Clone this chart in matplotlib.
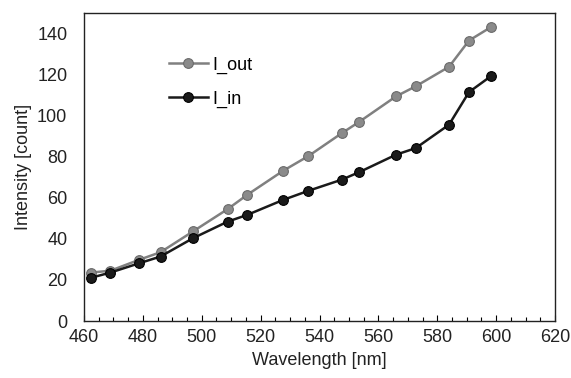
import matplotlib.pyplot as plt
from matplotlib.ticker import MultipleLocator

plt.rcParams['font.family'] = ['Liberation Sans', 'DejaVu Sans']

wavelength = [462.5, 469, 478.7, 486, 497, 508.8, 515.5, 527.7, 536.2, 547.5,
              553.5, 566, 572.7, 584, 590.8, 598.2]
i_out = [23.6, 24.5, 29.8, 33.5, 43.6, 54.5, 61.5, 73.2, 80.3, 91.4,
         97.0, 109.4, 114.3, 123.8, 136.6, 143.1]
i_in = [21.1, 23.6, 28.1, 31.4, 40.3, 48.4, 51.7, 59.0, 63.4, 68.8,
        72.5, 81.0, 84.2, 95.6, 111.5, 119.2]

fig = plt.figure(figsize=(5.71, 3.78), dpi=100)
ax = fig.add_axes([84 / 571, 57 / 378, 471 / 571, 308 / 378])

ax.plot(wavelength, i_out, '-o', color='#808080', lw=1.8, ms=7,
        mfc='#8a8a8a', mec='#6a6a6a', mew=0.8, label='I_out')
ax.plot(wavelength, i_in, '-o', color='#1a1a1a', lw=1.8, ms=7,
        mfc='#1a1a1a', mec='#000000', mew=0.8, label='I_in')

ax.set_xlim(460, 620)
ax.set_ylim(0, 150)
ax.xaxis.set_major_locator(MultipleLocator(20))
ax.xaxis.set_minor_locator(MultipleLocator(5))
ax.yaxis.set_major_locator(MultipleLocator(20))
ax.tick_params(axis='x', which='major', direction='in', length=4, width=0.8,
               labelsize=13, pad=6, labelcolor='#222222')
ax.tick_params(axis='x', which='minor', direction='in', length=3, width=0.8)
ax.tick_params(axis='y', which='major', direction='in', length=0,
               labelsize=13, pad=12, labelcolor='#222222')
for s in ax.spines.values():
    s.set_linewidth(1.0)
    s.set_color('#222222')

ax.set_xlabel('Wavelength [nm]', fontsize=13, color='#222222', labelpad=4)
ax.set_ylabel('Intensity [count]', fontsize=13, color='#222222', labelpad=4)

ax.legend(loc='upper left', bbox_to_anchor=(0.145, 0.912), frameon=False,
          fontsize=13, handlelength=2.2, handletextpad=0.2, labelspacing=0.95)

plt.savefig('out.png', dpi=100)
